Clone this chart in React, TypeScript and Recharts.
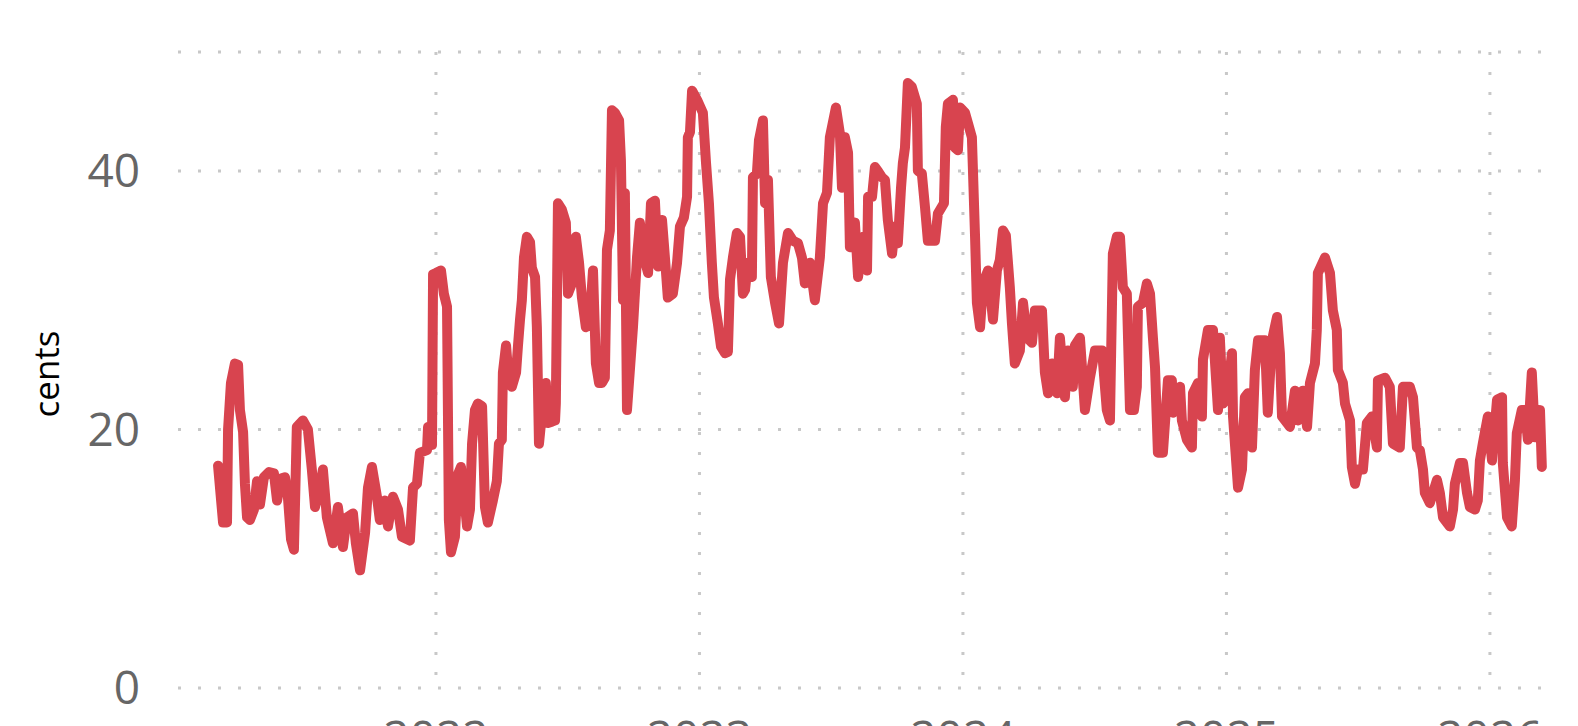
import { CartesianGrid, Line, LineChart, XAxis, YAxis } from 'recharts'

// [decimal year, cents]
const points2021: [number, number][] = [
  [2021.173, 17.2], [2021.192, 12.8], [2021.207, 12.8], [2021.211, 20.0], [2021.222, 23.6], [2021.237, 25.1],
  [2021.249, 25.0], [2021.256, 21.5], [2021.268, 19.8], [2021.275, 15.8], [2021.283, 13.2], [2021.294, 13.0],
  [2021.309, 13.8], [2021.321, 16.0], [2021.332, 14.2], [2021.347, 16.3], [2021.366, 16.7], [2021.385, 16.6],
  [2021.397, 14.5], [2021.412, 16.2], [2021.427, 16.3], [2021.438, 14.8], [2021.45, 11.5], [2021.461, 10.7],
  [2021.472, 20.2], [2021.495, 20.7], [2021.514, 20.0], [2021.529, 16.9], [2021.541, 14.0], [2021.56, 15.5],
  [2021.571, 16.9], [2021.586, 13.2], [2021.609, 11.2], [2021.628, 14.0], [2021.647, 10.9], [2021.662, 13.2],
  [2021.685, 13.5], [2021.696, 11.2], [2021.712, 9.1], [2021.731, 12.0], [2021.742, 15.5], [2021.757, 17.1],
  [2021.776, 14.8], [2021.787, 13.0], [2021.806, 14.5], [2021.818, 12.5], [2021.837, 14.8], [2021.856, 13.8],
  [2021.871, 11.7], [2021.901, 11.4], [2021.913, 15.5], [2021.928, 15.8], [2021.939, 18.2], [2021.966, 18.4],
  [2021.97, 20.2], [2021.985, 18.8], [2021.989, 32.0],
]

const points2022: [number, number][] = [
  [2022.0, 32.1], [2022.019, 32.3], [2022.03, 30.5], [2022.042, 29.5], [2022.049, 13.0], [2022.057, 10.5],
  [2022.072, 11.7], [2022.083, 16.5], [2022.095, 17.1], [2022.106, 15.0], [2022.118, 12.5], [2022.129, 13.8],
  [2022.137, 18.9], [2022.148, 21.5], [2022.159, 22.0], [2022.175, 21.8], [2022.186, 14.0], [2022.197, 12.8],
  [2022.216, 14.5], [2022.231, 16.0], [2022.239, 18.9], [2022.25, 19.2], [2022.254, 24.4], [2022.266, 26.5],
  [2022.277, 23.6], [2022.288, 23.3], [2022.304, 24.4], [2022.311, 26.4], [2022.319, 28.5], [2022.326, 30.0],
  [2022.334, 33.3], [2022.345, 34.9], [2022.357, 34.5], [2022.364, 32.5], [2022.376, 31.8], [2022.383, 27.9],
  [2022.391, 18.9], [2022.406, 22.0], [2022.417, 23.6], [2022.425, 20.5], [2022.44, 20.6], [2022.452, 20.7],
  [2022.455, 22.0], [2022.463, 37.5], [2022.478, 37.0], [2022.493, 36.0], [2022.501, 30.5], [2022.516, 31.3],
  [2022.531, 34.9], [2022.543, 32.9], [2022.554, 30.2], [2022.569, 27.9], [2022.584, 28.5], [2022.596, 32.3],
  [2022.607, 25.1], [2022.619, 23.6], [2022.63, 23.6], [2022.641, 24.0], [2022.649, 33.9], [2022.66, 35.4],
  [2022.668, 44.7], [2022.679, 44.5], [2022.695, 43.9], [2022.702, 40.8], [2022.71, 30.0], [2022.717, 38.3],
  [2022.725, 21.5], [2022.748, 28.0], [2022.763, 33.3], [2022.774, 36.0], [2022.786, 33.6], [2022.805, 32.1],
  [2022.816, 37.5], [2022.831, 37.7], [2022.843, 32.6], [2022.858, 36.2], [2022.869, 33.3], [2022.88, 30.2],
  [2022.899, 30.5], [2022.915, 32.9], [2022.926, 35.7], [2022.941, 36.4], [2022.953, 38.0], [2022.956, 42.6],
  [2022.964, 43.0], [2022.972, 46.2], [2022.991, 45.5],
]

const points2023: [number, number][] = [
  [2023.002, 45.0], [2023.013, 44.5], [2023.025, 40.6], [2023.036, 37.5], [2023.047, 32.9], [2023.055, 30.2],
  [2023.07, 28.2], [2023.082, 26.4], [2023.097, 25.9], [2023.108, 26.0], [2023.116, 31.6], [2023.127, 33.3],
  [2023.142, 35.2], [2023.154, 34.9], [2023.165, 30.5], [2023.173, 30.8], [2023.184, 32.9], [2023.199, 31.8],
  [2023.203, 39.5], [2023.218, 39.8], [2023.226, 42.4], [2023.241, 43.9], [2023.249, 37.5], [2023.26, 39.3],
  [2023.271, 31.8], [2023.287, 29.8], [2023.302, 28.2], [2023.317, 32.9], [2023.336, 35.2], [2023.355, 34.6],
  [2023.374, 34.4], [2023.389, 33.3], [2023.4, 31.3], [2023.419, 32.9], [2023.438, 30.0], [2023.457, 33.3],
  [2023.469, 37.5], [2023.484, 38.3], [2023.495, 42.6], [2023.518, 44.9], [2023.533, 42.9], [2023.541, 38.7],
  [2023.552, 42.6], [2023.564, 41.4], [2023.571, 34.1], [2023.59, 36.0], [2023.602, 31.8], [2023.621, 34.9],
  [2023.636, 32.3], [2023.64, 38.0], [2023.655, 38.0], [2023.666, 40.3], [2023.677, 40.0], [2023.693, 39.5],
  [2023.704, 39.3], [2023.715, 36.2], [2023.731, 33.6], [2023.742, 35.7], [2023.753, 34.4], [2023.765, 38.7],
  [2023.772, 40.6], [2023.78, 41.8], [2023.791, 46.8], [2023.806, 46.5], [2023.825, 45.2], [2023.829, 40.0],
  [2023.844, 39.8], [2023.856, 37.2], [2023.867, 34.6], [2023.894, 34.6], [2023.905, 36.7], [2023.928, 37.5],
  [2023.935, 43.4], [2023.943, 45.2], [2023.962, 45.5], [2023.97, 41.8], [2023.981, 41.6], [2023.989, 44.9],
]

const points2024: [number, number][] = [
  [2024.008, 44.5], [2024.019, 43.7], [2024.034, 42.6], [2024.046, 34.9], [2024.053, 29.8], [2024.065, 27.9],
  [2024.076, 31.3], [2024.095, 32.3], [2024.114, 28.5], [2024.129, 32.3], [2024.14, 33.1], [2024.152, 35.4],
  [2024.163, 35.0], [2024.178, 31.0], [2024.186, 28.2], [2024.197, 25.1], [2024.216, 26.1], [2024.228, 29.8],
  [2024.243, 27.1], [2024.262, 26.7], [2024.273, 29.2], [2024.3, 29.2], [2024.311, 24.4], [2024.323, 22.8],
  [2024.338, 25.1], [2024.357, 22.8], [2024.368, 27.1], [2024.387, 22.5], [2024.398, 26.1], [2024.417, 23.3],
  [2024.425, 26.5], [2024.444, 27.1], [2024.463, 21.5], [2024.482, 24.0], [2024.501, 26.1], [2024.528, 26.1],
  [2024.546, 21.5], [2024.558, 20.7], [2024.569, 33.6], [2024.584, 34.9], [2024.596, 34.9], [2024.607, 31.0],
  [2024.622, 30.5], [2024.634, 21.5], [2024.649, 21.5], [2024.66, 23.3], [2024.664, 29.5], [2024.683, 29.8],
  [2024.698, 31.3], [2024.71, 30.5], [2024.721, 27.1], [2024.729, 24.8], [2024.74, 18.2], [2024.759, 18.2],
  [2024.778, 23.8], [2024.793, 23.8], [2024.797, 21.3], [2024.824, 23.3], [2024.831, 20.7], [2024.85, 19.2],
  [2024.869, 18.6], [2024.873, 22.8], [2024.892, 23.6], [2024.907, 21.0], [2024.911, 25.4], [2024.93, 27.7],
  [2024.949, 27.7], [2024.968, 21.5], [2024.975, 27.1], [2024.987, 22.0],
]

const points2025: [number, number][] = [
  [2025.002, 22.5], [2025.021, 25.9], [2025.025, 21.0], [2025.044, 15.5], [2025.059, 16.9], [2025.07, 22.5],
  [2025.082, 22.8], [2025.097, 18.6], [2025.108, 24.6], [2025.12, 26.9], [2025.146, 26.9], [2025.157, 21.3],
  [2025.173, 26.9], [2025.192, 28.7], [2025.203, 25.9], [2025.211, 21.0], [2025.23, 20.5], [2025.241, 20.2],
  [2025.26, 23.0], [2025.271, 20.7], [2025.29, 23.0], [2025.306, 20.2], [2025.317, 23.6], [2025.336, 25.1],
  [2025.343, 27.7], [2025.347, 32.1], [2025.374, 33.3], [2025.393, 32.1], [2025.404, 29.2], [2025.419, 27.7],
  [2025.423, 24.6], [2025.442, 23.6], [2025.45, 22.0], [2025.469, 20.7], [2025.476, 17.1], [2025.488, 15.8],
  [2025.499, 16.9], [2025.518, 16.9], [2025.533, 20.5], [2025.552, 21.0], [2025.571, 18.6], [2025.575, 23.8],
  [2025.602, 24.0], [2025.62, 23.3], [2025.632, 18.9], [2025.658, 18.6], [2025.67, 23.3], [2025.696, 23.3],
  [2025.708, 22.5], [2025.723, 18.6], [2025.734, 18.4], [2025.746, 16.9], [2025.753, 15.1], [2025.772, 14.3],
  [2025.799, 16.1], [2025.81, 15.1], [2025.822, 13.2], [2025.848, 12.5], [2025.86, 13.8], [2025.867, 15.8],
  [2025.886, 17.4], [2025.898, 17.4], [2025.913, 15.1], [2025.924, 14.0], [2025.943, 13.8], [2025.954, 14.5],
  [2025.962, 17.6], [2025.973, 18.9], [2025.992, 21.0],
]

const points2026: [number, number][] = [
  [2026.008, 17.6], [2026.027, 22.3], [2026.046, 22.5], [2026.049, 17.4], [2026.065, 13.2], [2026.083, 12.5],
  [2026.095, 16.1], [2026.102, 19.7], [2026.121, 21.5], [2026.133, 21.5], [2026.144, 19.2], [2026.159, 24.4],
  [2026.171, 19.4], [2026.19, 21.5], [2026.197, 17.1],
]

const yearTicks = [2022, 2023, 2024, 2025, 2026]
const centTicks = [0, 20, 40]

const data = [...points2021, ...points2022, ...points2023, ...points2024, ...points2025, ...points2026].map(
  ([t, v]) => ({ t, v }),
)

const tickStyle = { fontSize: 46, fill: '#666666', fontFamily: 'Open Sans' }

export default function App() {
  return (
    <div style={{ position: 'fixed', left: 0, top: 0, width: 1578, height: 726, background: '#fff' }}>
      <LineChart width={1578} height={726} data={data} margin={{ top: 52, right: 23, left: 0, bottom: 0 }}>
        <CartesianGrid stroke="#c8c8c8" strokeWidth={3} strokeDasharray="3 17" verticalValues={yearTicks} />
        <XAxis
          dataKey="t"
          type="number"
          domain={[2021.021, 2026.247]}
          ticks={yearTicks}
          allowDataOverflow
          axisLine={false}
          tickLine={false}
          tickSize={0}
          tickMargin={33}
          height={38}
          tick={tickStyle}
        />
        <YAxis
          type="number"
          domain={[0, 49.2]}
          ticks={centTicks}
          allowDataOverflow
          axisLine={false}
          tickLine={false}
          tickSize={0}
          tickMargin={38}
          width={178}
          tick={tickStyle}
        />
        <Line
          dataKey="v"
          type="linear"
          stroke="#d8444f"
          strokeWidth={10}
          strokeLinejoin="round"
          strokeLinecap="round"
          dot={false}
          activeDot={false}
          isAnimationActive={false}
        />
      </LineChart>
      <div
        style={{
          position: 'absolute',
          left: 45,
          top: 374,
          transform: 'translate(-50%, -50%) rotate(-90deg)',
          fontFamily: 'Open Sans',
          fontSize: 35,
          fontWeight: 500,
          color: '#000',
          whiteSpace: 'nowrap',
        }}
      >
        cents
      </div>
    </div>
  )
}
